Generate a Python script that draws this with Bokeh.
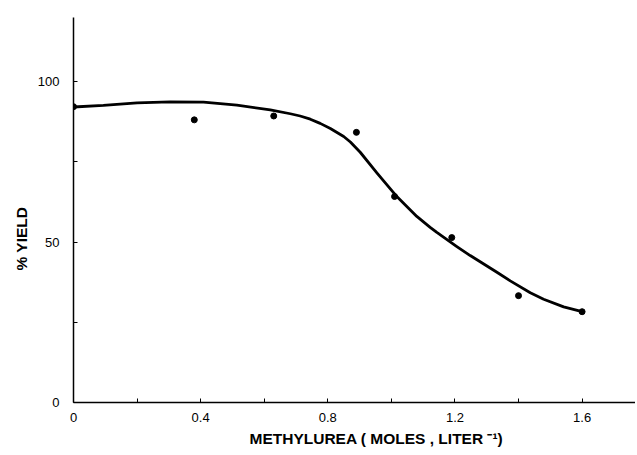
from bokeh.plotting import figure
from bokeh.models import FixedTicker, Range1d, Title
from bokeh.embed import file_html
from bokeh.resources import INLINE

# measured points
conc = [0.0, 0.38, 0.63, 0.89, 1.01, 1.19, 1.40, 1.60]
yield_pct = [92.2, 88.1, 89.3, 84.2, 64.2, 51.4, 33.3, 28.3]

# fitted curve
curve_x = [0.0, 0.094, 0.2, 0.304, 0.409, 0.514, 0.619, 0.682, 0.713, 0.745,
           0.776, 0.808, 0.85, 0.871, 0.902, 0.955, 1.018, 1.08, 1.122, 1.143,
           1.206, 1.248, 1.332, 1.374, 1.437, 1.479, 1.542, 1.6]
curve_y = [92.1, 92.6, 93.4, 93.7, 93.6, 92.7, 91.2, 90.0, 89.3, 88.3,
           87.0, 85.4, 82.9, 81.2, 78.0, 71.5, 64.1, 58.0, 54.6, 53.0,
           48.6, 45.8, 40.6, 37.9, 34.2, 32.2, 29.8, 28.3]

x_major = [0, 0.4, 0.8, 1.2, 1.6]
x_minor = [0.2, 0.6, 1.0, 1.4]
x_labels = {0: "0", 0.4: "0.4", 0.8: "0.8", 1.2: "1.2", 1.6: "1.6"}
y_major = [0, 50, 100]
y_minor = [25, 75]

x_title = "METHYLUREA ( MOLES , LITER \u207b\u00b9)"
y_title = "% YIELD"

FONT = "Liberation Sans"

p = figure(frame_width=562, frame_height=385, output_backend="svg",
           toolbar_location=None,
           x_range=Range1d(0, 1.768), y_range=Range1d(0, 120),
           min_border_left=73, min_border_right=0, min_border_top=17,
           min_border_bottom=0)
p.outline_line_color = None
p.xgrid.grid_line_color = None
p.ygrid.grid_line_color = None
p.background_fill_color = "white"

for ax in (p.xaxis[0], p.yaxis[0]):
    ax.axis_line_color = "black"
    ax.axis_line_width = 1.5
    ax.major_tick_in = 4
    ax.major_tick_out = 0
    ax.minor_tick_in = 4
    ax.minor_tick_out = 0
    ax.major_tick_line_color = "black"
    ax.minor_tick_line_color = "black"
    ax.major_tick_line_width = 1
    ax.minor_tick_line_width = 1
    ax.major_label_text_font = FONT
    ax.major_label_text_font_size = "13px"
    ax.major_label_text_color = "black"

p.xaxis[0].ticker = FixedTicker(ticks=x_major, minor_ticks=x_minor)
p.xaxis[0].major_label_overrides = x_labels
p.xaxis[0].major_label_standoff = 10
p.yaxis[0].ticker = FixedTicker(ticks=y_major, minor_ticks=y_minor)
p.yaxis[0].major_label_standoff = 14

p.line(curve_x, curve_y, line_color="black", line_width=2.8,
       line_join="round", line_cap="round")
p.scatter(conc, yield_pct, size=6, color="black")

p.add_layout(Title(text=x_title, align="left", offset=176,
                   text_font=FONT, text_font_style="bold",
                   text_font_size="15.5px", text_color="black",
                   standoff=6), "below")
p.add_layout(Title(text=y_title, align="left", offset=132,
                   text_font=FONT, text_font_style="bold",
                   text_font_size="15.5px", text_color="black",
                   standoff=10), "left")

open("out.html", "w").write(file_html(p, INLINE))
